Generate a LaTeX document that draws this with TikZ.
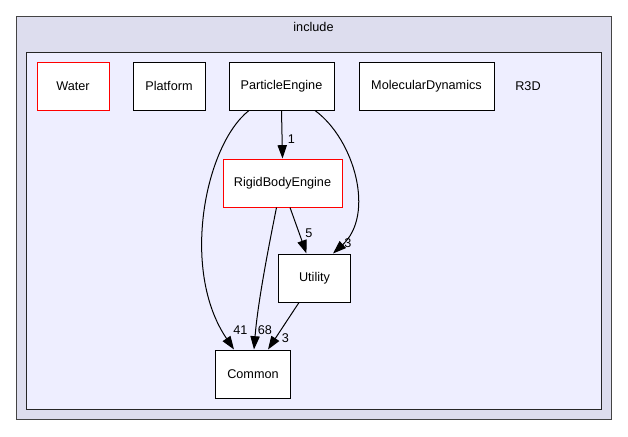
\documentclass[tikz,border=0pt]{standalone}
\usepackage{fontspec}
\setmainfont{Liberation Sans}
\usetikzlibrary{calc}
\usetikzlibrary{arrows.meta}
\definecolor{outerfill}{HTML}{DDDDEE}
\definecolor{innerfill}{HTML}{EEEEFF}
\definecolor{framegray}{HTML}{444444}
\tikzset{
  dirbox/.style={draw=black,fill=white,line width=0.75pt,minimum height=36pt,inner sep=0pt,font=\fontsize{9.5}{11}\selectfont},
  redbox/.style={dirbox,draw=red},
  deplabel/.style={inner sep=0pt,anchor=west,font=\fontsize{9.5}{11}\selectfont},
  dep/.style={line width=0.75pt,-{Triangle[length=10pt,width=7pt]}}
}
\begin{document}
\begin{tikzpicture}[x=0.75pt,y=-0.75pt]
        \useasboundingbox (0,0) rectangle (628,436);
        \draw [framegray,fill=outerfill,line width=0.75pt] (16,16) rectangle (611,419);
        \node (include) at (313.5,27) {\fontsize{9.5}{11}\selectfont include};
        \draw [black!85,fill=innerfill,line width=0.75pt] (26,52) rectangle (601,409);
        \node (r3d) at (528,86) {\fontsize{9.5}{11}\selectfont R3D};

        \node [redbox,minimum width=54pt] (water) at (73,86) {Water};
        \node [dirbox,minimum width=54pt] (platform) at (169,86) {Platform};
        \node [dirbox,minimum width=78.75pt] (particle) at (281.5,86) {ParticleEngine};
        \node [dirbox,minimum width=101.25pt] (molecular) at (426.5,86) {MolecularDynamics};
        \node [redbox,minimum width=89.25pt] (rigid) at (282.5,183) {RigidBodyEngine};
        \node [dirbox,minimum width=54.5pt] (utility) at (314.5,278) {Utility};
        \node [dirbox,minimum width=56.25pt] (common) at (253,374) {Common};

        \draw [dep] (particle.south) -- (rigid.north);
        \draw [dep] ($(particle.south)+(-32.5,0)$) .. controls (205,145) and (180,270) .. ($(common.north)+(-19,0)$);
        \draw [dep] ($(particle.south)+(33.5,0)$) .. controls (355,140) and (375,215) .. ($(utility.north)+(18.5,0)$);
        \draw [dep] ($(rigid.south)+(7.5,0)$) -- ($(utility.north)+(-8,0)$);
        \draw [dep] ($(rigid.south)+(-6,0)$) .. controls (270,240) and (258,300) .. ($(common.north)+(1,0)$);
        \draw [dep] ($(utility.south)+(-15.5,0)$) -- ($(common.north)+(15,0)$);

        \node [deplabel] (l1) at (287.5,139) {1};
        \node [deplabel] (l41) at (233,330) {41};
        \node [deplabel] (l68) at (257.5,330) {68};
        \node [deplabel] (l5) at (305,233) {5};
        \node [deplabel] (l3a) at (344,243) {3};
        \node [deplabel] (l3b) at (281.5,338) {3};
      \end{tikzpicture}
\end{document}
